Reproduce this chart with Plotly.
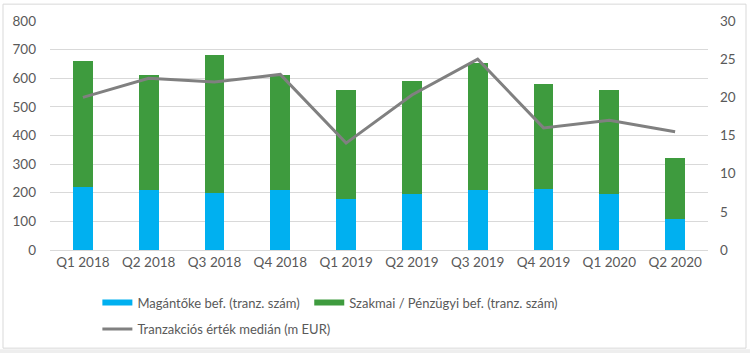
import plotly.graph_objects as go

quarters = ["Q1 2018", "Q2 2018", "Q3 2018", "Q4 2018", "Q1 2019",
            "Q2 2019", "Q3 2019", "Q4 2019", "Q1 2020", "Q2 2020"]
private_equity = [220, 210, 200, 210, 178, 195, 208, 212, 195, 108]
strategic_total = [660, 610, 680, 610, 560, 590, 652, 580, 560, 320]
strategic = [t - p for t, p in zip(strategic_total, private_equity)]
median_value = [20.0, 22.5, 22.0, 23.0, 14.0, 20.3, 25.0, 16.0, 17.0, 15.5]

name_pe = "Magántőke bef. (tranz. szám)"
name_st = "Szakmai / Pénzügyi bef. (tranz. szám)"
name_med = "Tranzakciós érték medián (m EUR)"

BLUE = "#00B0F0"
GREEN = "#3E9B3E"
GREY = "#808080"
TXT = "#595959"
FONT = "Lato"

fig = go.Figure()
fig.add_trace(go.Bar(x=quarters, y=private_equity, name=name_pe, marker_color=BLUE,
                     marker_line_width=0, showlegend=False, width=0.3))
fig.add_trace(go.Bar(x=quarters, y=strategic, name=name_st, marker_color=GREEN,
                     marker_line_width=0, showlegend=False, width=0.3))
fig.add_trace(go.Scatter(x=quarters, y=median_value, name=name_med, yaxis="y2",
                         mode="lines", line=dict(color=GREY, width=3),
                         legend="legend2"))
# legend entries styled like Excel's wide swatches
fig.add_trace(go.Scatter(x=[None], y=[None], mode="lines", name=name_pe,
                         line=dict(color=BLUE, width=6), legend="legend"))
fig.add_trace(go.Scatter(x=[None], y=[None], mode="lines", name=name_st,
                         line=dict(color=GREEN, width=6), legend="legend3"))

leg_common = dict(orientation="h", xanchor="left", yanchor="middle",
                  font=dict(size=13, color=TXT), bgcolor="rgba(0,0,0,0)",
                  itemwidth=30)

fig.update_layout(
    width=750, height=356,
    margin=dict(l=50, r=42, t=21, b=104),
    paper_bgcolor="white", plot_bgcolor="white",
    barmode="stack",
    font=dict(family=FONT, size=13, color=TXT),
    xaxis=dict(showgrid=False, showline=True, linecolor="#D9D9D9", linewidth=1,
               ticks="", tickfont=dict(size=13.5, color=TXT), automargin=False),
    yaxis=dict(range=[0, 800], dtick=100, showgrid=True, gridcolor="#D9D9D9",
               gridwidth=1, zeroline=False, showline=False, ticks="",
               tickfont=dict(size=13.5, color=TXT), ticklabelstandoff=13,
               automargin=False),
    yaxis2=dict(range=[0, 30], dtick=5, overlaying="y", side="right",
                showgrid=False, zeroline=False, showline=False, ticks="",
                tickfont=dict(size=13.5, color=TXT), ticklabelstandoff=11,
                automargin=False),
    legend=dict(x=0.072, y=-0.23, **leg_common),
    legend3=dict(x=0.394, y=-0.23, **leg_common),
    legend2=dict(x=0.072, y=-0.345, **leg_common),
    shapes=[
        dict(type="rect", xref="paper", yref="paper",
             x0=(3 - 50) / 658, x1=(746 - 50) / 658,
             y0=(252 - 351) / 231, y1=(252 - 4) / 231,
             line=dict(color="#D9D9D9", width=1), fillcolor="rgba(0,0,0,0)",
             layer="below"),
        dict(type="rect", xref="paper", yref="paper",
             x0=(0 - 50) / 658, x1=(750 - 50) / 658,
             y0=(252 - 356) / 231, y1=(252 - 352) / 231,
             line=dict(width=0), fillcolor="#EEEEEE", layer="below"),
    ],
)

fig.write_html("out.html", config={"displayModeBar": False},
               post_script="document.body.style.margin='0';document.body.style.overflow='hidden';")
